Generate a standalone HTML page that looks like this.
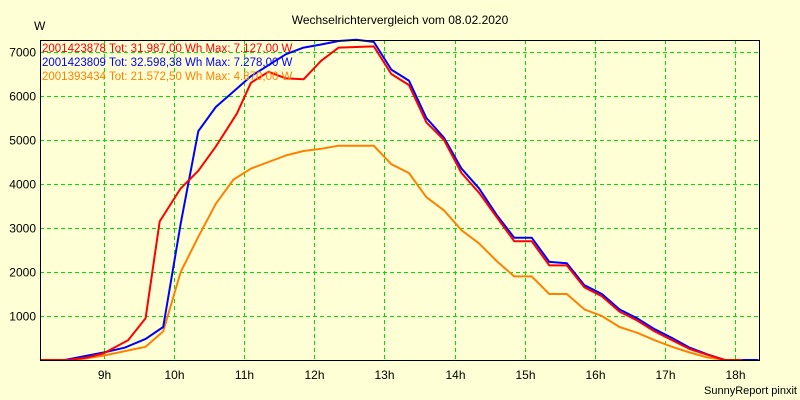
<!DOCTYPE html>
<html><head><meta charset="utf-8"><style>
body{margin:0;background:#ffffd6;}
svg{display:block;font-family:"Liberation Sans",sans-serif;}
</style></head><body>
<svg width="800" height="400" id="c">
<rect x="0" y="0" width="800" height="400" fill="#ffffd6"/>
<text x="400" y="24" font-size="12" text-anchor="middle">Wechselrichtervergleich vom 08.02.2020</text>
<text x="34" y="30" font-size="12">W</text>
<text x="797" y="394" font-size="11" text-anchor="end">SunnyReport pinxit</text>
<g id="grid"></g>
<g id="series"></g>
<rect x="40.5" y="40.5" width="719" height="320" fill="none" stroke="#000"/>
<g id="axes"></g>
<g id="legend"></g>
</svg>
<script>
const xTicks=[9,10,11,12,13,14,15,16,17,18];
const yTicks=[1000,2000,3000,4000,5000,6000,7000];
const redT=[8.1,8.5,8.75,9,9.35,9.6,9.8,10.1,10.35,10.6,10.9,11.1,11.35,11.6,11.85,12.1,12.35,12.85,13.1,13.35,13.6,13.85,14.1,14.35,14.6,14.85,15.1,15.35,15.6,15.85,16.1,16.35,16.6,16.85,17.1,17.35,17.6,17.85,18.1];
const redV=[0,0,50,150,450,950,3150,3900,4300,4850,5600,6300,6550,6400,6380,6800,7100,7127,6500,6250,5400,5000,4250,3800,3250,2700,2700,2150,2150,1650,1450,1100,900,650,450,250,120,0,0];
const blueT=[8.45,9,9.3,9.6,9.85,10.1,10.35,10.6,10.85,11.1,11.35,11.6,11.85,12.1,12.35,12.6,12.85,13.1,13.35,13.6,13.85,14.1,14.35,14.6,14.85,15.1,15.35,15.6,15.85,16.1,16.35,16.6,16.85,17.1,17.35,17.6,17.85,18.33];
const blueV=[0,170,280,480,750,3100,5200,5750,6100,6450,6700,6950,7100,7170,7250,7278,7230,6600,6350,5500,5050,4350,3900,3300,2780,2780,2230,2200,1700,1500,1150,950,700,500,280,130,0,0];
const orangeT=[8.1,8.6,9,9.6,9.85,10.1,10.35,10.6,10.85,11.1,11.35,11.6,11.85,12.1,12.35,12.85,13.1,13.35,13.6,13.85,14.1,14.35,14.6,14.85,15.1,15.35,15.6,15.85,16.1,16.35,16.6,16.85,17.1,17.35,17.6,17.85,18.1];
const orangeV=[0,0,100,300,650,2000,2800,3550,4100,4350,4500,4650,4750,4800,4870,4870,4450,4250,3700,3400,2950,2650,2250,1900,1900,1500,1500,1150,1000,750,620,450,300,170,60,0,0];
const legendText=["2001423878  Tot: 31.987,00 Wh Max: 7.127,00 W","2001423809  Tot: 32.598,38 Wh Max: 7.278,00 W","2001393434  Tot: 21.572,50 Wh Max: 4.870,00 W"];
const NS="http://www.w3.org/2000/svg";
function sx(h){return 103.5+(h-9)*70.2;}
function sy(v){return 360-v*0.044;}
function mk(tag,attrs,parent){const e=document.createElementNS(NS,tag);for(const k in attrs)e.setAttribute(k,attrs[k]);parent.appendChild(e);return e;}
const grid=document.getElementById('grid'),axes=document.getElementById('axes'),ser=document.getElementById('series'),leg=document.getElementById('legend');
xTicks.forEach(h=>{const x=Math.round(sx(h))+0.5;
 const l=mk('line',{x1:x,x2:x,y1:40,y2:360,stroke:'#00e000','stroke-dasharray':'4,3'},grid);
 
 
 const t=mk('text',{x:x,y:379,'font-size':12,'text-anchor':'middle'},axes);t.textContent=h+'h';
 
 });
yTicks.forEach(v=>{const y=Math.round(sy(v))+0.5;
 const l=mk('line',{x1:40,x2:760,y1:y,y2:y,stroke:'#00e000','stroke-dasharray':'4,3'},grid);
 
 
 const t=mk('text',{x:36,y:y+4,'font-size':12,'text-anchor':'end'},axes);t.textContent=v;
 
 });
function line(T,V,color,name){const p=T.map((t,i)=>sx(t).toFixed(1)+','+sy(V[i]).toFixed(1)).join(' ');
 const e=mk('polyline',{points:p,fill:'none',stroke:color,'stroke-width':2,'stroke-linejoin':'round'},ser);
 
 }
line(orangeT,orangeV,'#ff8000','series-2001393434');
line(blueT,blueV,'#0000ff','series-2001423809');
line(redT,redV,'#ff0000','series-2001423878');
const cols=['#ff0000','#0000ff','#ff8000'];
legendText.forEach((s,i)=>{const t=mk('text',{x:42,y:52+i*14,'font-size':11.5,fill:cols[i],'xml:space':'preserve'},leg);t.textContent=s;
 
 });
</script>
</body></html>
